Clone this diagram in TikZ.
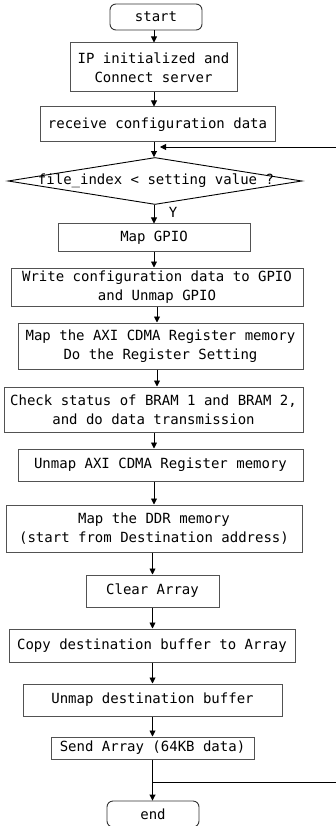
\documentclass[tikz,border=0pt]{standalone}
\usepackage{fontspec}
\setmainfont{DejaVu Sans Mono}
\usetikzlibrary{arrows.meta,shapes.geometric}
\begin{document}
\begin{tikzpicture}[x=1pt,y=-1pt,
  font=\fontsize{14}{19}\selectfont,
  box/.style={draw=black!68,line width=1pt,inner sep=0pt,align=center},
  term/.style={draw=black!80,line width=0.9pt,rounded corners=6pt,inner sep=0pt},
  arr/.style={draw=black,line width=0.9pt,-{Triangle[length=6pt,width=6pt]}},
  ln/.style={draw=black,line width=0.9pt}]
\useasboundingbox (0,0) rectangle (336,826);
% nodes
\node[term,minimum width=92pt,minimum height=26pt] (start) at (156,17) {start};
\node[box,minimum width=167pt,minimum height=49pt] (ip) at (153.5,67.5) {IP initialized and\\Connect server};
\node[box,minimum width=235pt,minimum height=35pt] (recv) at (157.5,124.5) {receive configuration data};
\node[draw=black,line width=0.9pt,diamond,inner sep=0pt,minimum width=294pt,minimum height=47pt] (dec) at (155,181) {};
\node (dtext) at (156,181) {file\_index < setting value ?};
\node (y) at (173,212) {Y};
\node[box,minimum width=192pt,minimum height=27pt] (gpio) at (154,237.5) {Map GPIO};
\node[box,minimum width=292pt,minimum height=38pt] (write) at (157,287) {Write configuration data to GPIO\\and Unmap GPIO};
\node[box,minimum width=285pt,minimum height=46pt] (axi) at (160.5,346) {Map the AXI CDMA Register memory\\Do the Register Setting};
\node[box,minimum width=299pt,minimum height=45pt] (check) at (153.5,409.5) {Check status of BRAM 1 and BRAM 2,\\and do data transmission};
\node[box,minimum width=285pt,minimum height=32pt] (unaxi) at (160.5,465) {Unmap AXI CDMA Register memory};
\node[box,minimum width=296pt,minimum height=47pt] (ddr) at (154,528.5) {Map the DDR memory\\(start from Destination address)};
\node[box,minimum width=133pt,minimum height=32pt] (clear) at (152.5,591) {Clear Array};
\node[box,minimum width=286pt,minimum height=33pt] (copy) at (152,645.5) {Copy destination buffer to Array};
\node[box,minimum width=259pt,minimum height=32pt] (undest) at (152.5,700) {Unmap destination buffer};
\node[box,minimum width=203pt,minimum height=22pt] (send) at (152.5,748) {Send Array (64KB data)};
\node[term,minimum width=92pt,minimum height=26pt] (end) at (153,814) {end};
% column coordinates
\coordinate (c1) at (154,0);
\coordinate (c2) at (157,0);
\coordinate (c3) at (152.5,0);
\coordinate (loopin) at (160,147);
\coordinate (join) at (152.5,782);
\coordinate (rb) at (338,782);
\coordinate (rt) at (338,147);
% connectors
\draw[arr] (start.south -| c1) -- (ip.north -| c1);
\draw[arr] (ip.south -| c1) -- (recv.north -| c1);
\draw[arr] (recv.south -| c1) -- (dec.north -| c1);
\draw[arr] (dec.south -| c1) -- (gpio.north -| c1);
\draw[arr] (gpio.south -| c1) -- (write.north -| c1);
\draw[arr] (write.south -| c2) -- (axi.north -| c2);
\draw[arr] (axi.south -| c2) -- (check.north -| c2);
\draw[arr] (check.south -| c1) -- (unaxi.north -| c1);
\draw[arr] (unaxi.south -| c1) -- (ddr.north -| c1);
\draw[arr] (ddr.south -| c3) -- (clear.north -| c3);
\draw[arr] (clear.south -| c3) -- (copy.north -| c3);
\draw[arr] (copy.south -| c3) -- (undest.north -| c3);
\draw[arr] (undest.south -| c3) -- (send.north -| c3);
\draw[arr] (send.south -| c3) -- (end.north -| c3);
\draw[arr] (join) -- (rb) -- (rt) -- (loopin);
\end{tikzpicture}
\end{document}
